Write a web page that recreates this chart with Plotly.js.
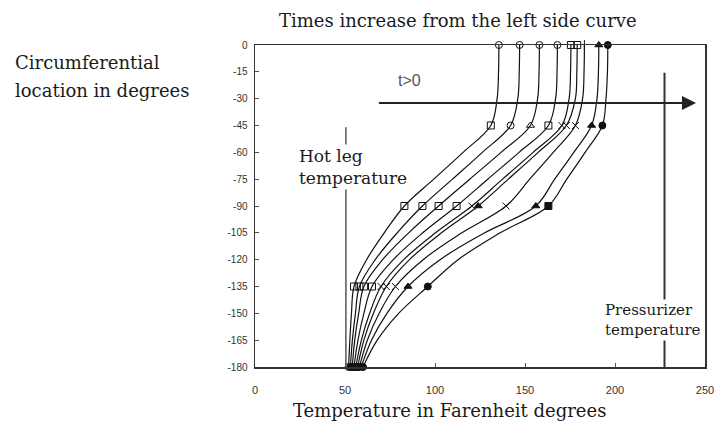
<!DOCTYPE html>
<html>
<head>
<meta charset="utf-8">
<script src="https://cdn.plot.ly/plotly-3.0.1.min.js"></script>
<style>html,body{margin:0;padding:0;background:#fff;}#chart{width:715px;height:426px;}</style>
</head>
<body>
<div id="chart"></div>
<script>
// Circumferential location (degrees)
const ANGLES = [0, -15, -30, -45, -60, -75, -90, -105, -120, -135, -150, -165, -180];
// Temperatures (°F) for each curve, times increase from left to right
const T1 = [135.5, 135.3, 134.5, 131, 115.6, 99.3, 83, 71.8, 62, 55, 53.6, 52.7, 52];
const T2 = [147, 146.8, 146, 142, 126.3, 109.7, 93, 79, 66.8, 58, 55.8, 54.1, 53];
const T3 = [158, 157.8, 157, 153, 136.7, 119.3, 102, 85.4, 70.9, 60.5, 57.6, 55.4, 54];
const T4 = [168, 167.8, 167, 163, 146.7, 129.3, 112, 93.2, 76.8, 65, 60.5, 57.2, 55];
const T5 = [175.5, 175.3, 174.5, 170.5, 154.5, 137.5, 120.5, 100.3, 82.6, 70, 63.7, 59.1, 56];
const T6 = [179, 178.8, 178, 173, 157.3, 140.7, 124, 103.6, 85.8, 73, 65.8, 60.5, 57];
const T7 = [183, 182.8, 182, 178, 165.7, 152.6, 139.5, 114.9, 93.4, 78, 69, 62.4, 58];
const T8 = [191, 190.8, 190, 187, 177.1, 166.5, 156, 127.6, 102.8, 85, 73.3, 64.7, 59];
const T9 = [196, 195.8, 195, 193, 183.4, 173.2, 163, 136.2, 112.8, 96, 79.8, 67.9, 60];
const CURVES = [T1, T2, T3, T4, T5, T6, T7, T8, T9];
// Measured (marked) angles
const MARKED_ANGLES = [0, -45, -90, -135, -180];
const MARKER_SYMBOLS = [
  ['circle-open','square-open','square-open','square-open','circle-open'],
  ['circle-open','circle-open','square-open','square-open','circle'],
  ['circle-open','triangle-up-open','square-open','square-open','circle'],
  ['circle-open','square-open','square-open','square-open','circle'],
  ['square-open','x-thin-open','x-thin-open','x-thin-open','circle'],
  ['square-open','x-thin-open','triangle-up','x-thin-open','circle'],
  ['line-ns-open','x-thin-open','x-thin-open','x-thin-open','circle'],
  ['triangle-up','triangle-up','triangle-up','triangle-up','triangle-up'],
  ['circle','circle','square','circle','circle']
];
const X_TICKS = [0, 50, 100, 150, 200, 250];
const X_TICKTEXT = ['0', '50', '100', '150', '200', '250'];
const Y_TICKS = [0, -15, -30, -45, -60, -75, -90, -105, -120, -135, -150, -165, -180];
const Y_TICKTEXT = ['0', '-15', '-30', '-45', '-60', '-75', '-90', '-105', '-120', '-135', '-150', '-165', '-180'];
const HOT_LEG_T = 50.5;
const PRESSURIZER_T = 227.5;

const traces = [];
CURVES.forEach((T, i) => {
  traces.push({
    x: T, y: ANGLES, type: 'scatter', mode: 'lines',
    line: {color: '#111', width: 1.2, shape: 'spline', smoothing: 1},
    hoverinfo: 'skip', showlegend: false, cliponaxis: false
  });
  const mx = [], my = [];
  MARKED_ANGLES.forEach(a => { const k = ANGLES.indexOf(a); mx.push(T[k]); my.push(a); });
  traces.push({
    x: mx, y: my, type: 'scatter', mode: 'markers',
    marker: {symbol: MARKER_SYMBOLS[i], size: 7, color: '#111', line: {color: '#111', width: 1}},
    hoverinfo: 'skip', showlegend: false, cliponaxis: false
  });
});

const SERIF = 'DejaVu Serif, Liberation Serif, serif';
const txt = (s, size) => ({family: SERIF, size: size, color: '#1a1a1a'});

const layout = {
  width: 715, height: 426,
  margin: {l: 255, r: 10, t: 45, b: 59},
  paper_bgcolor: '#fff', plot_bgcolor: '#fff',
  showlegend: false,
  xaxis: {
    range: [0, 250], tickvals: X_TICKS, ticktext: X_TICKTEXT,
    ticks: 'inside', ticklen: 4, tickcolor: '#555',
    showline: true, mirror: true, linecolor: '#333', linewidth: 1.5,
    showgrid: false, zeroline: false, ticklabelstandoff: 12,
    tickfont: {family: 'Liberation Sans, Arial, sans-serif', size: 11, color: '#333'}
  },
  yaxis: {
    range: [-180, 0], tickvals: Y_TICKS, ticktext: Y_TICKTEXT,
    ticks: 'inside', ticklen: 4, tickcolor: '#555',
    showline: true, mirror: true, linecolor: '#333', linewidth: 1.5,
    showgrid: false, zeroline: false, ticklabelstandoff: 4,
    tickfont: {family: 'Liberation Sans, Arial, sans-serif', size: 10, color: '#333'}
  },
  shapes: [
    {type: 'line', xref: 'x', yref: 'y', x0: HOT_LEG_T, x1: HOT_LEG_T, y0: -46, y1: -180,
     line: {color: '#555', width: 1.5}},
    {type: 'line', xref: 'x', yref: 'y', x0: PRESSURIZER_T, x1: PRESSURIZER_T, y0: -15.5, y1: -180,
     line: {color: '#333', width: 2}}
  ],
  annotations: [
    {xref: 'paper', yref: 'paper', x: 0.451, y: 1.0776, text: 'Times increase from the left side curve',
     showarrow: false, xanchor: 'center', yanchor: 'middle', font: txt('', 18)},
    {xref: 'paper', yref: 'paper', x: -0.5378, y: 0.947, text: 'Circumferential',
     showarrow: false, xanchor: 'left', yanchor: 'middle', font: txt('', 18)},
    {xref: 'paper', yref: 'paper', x: -0.5378, y: 0.860, text: 'location in degrees',
     showarrow: false, xanchor: 'left', yanchor: 'middle', font: txt('', 18)},
    {xref: 'paper', yref: 'paper', x: 0.433, y: -0.1366, text: 'Temperature in Farenheit degrees',
     showarrow: false, xanchor: 'center', yanchor: 'middle', font: txt('', 18)},
    {xref: 'x', yref: 'y', x: 23.3, y: -68, text: 'Hot leg<br>temperature', align: 'left',
     showarrow: false, xanchor: 'left', yanchor: 'middle', bgcolor: '#fff', font: txt('', 17)},
    {xref: 'x', yref: 'y', x: 193.3, y: -153.5, text: 'Pressurizer<br>temperature', align: 'left',
     showarrow: false, xanchor: 'left', yanchor: 'middle', bgcolor: '#fff', font: txt('', 15)},
    {xref: 'x', yref: 'y', x: 86, y: -19.6, text: 't&gt;0',
     showarrow: false, xanchor: 'center', yanchor: 'middle',
     font: {family: 'Liberation Sans, Arial, sans-serif', size: 16, color: '#555'}},
    {xref: 'x', yref: 'y', x: 245, y: -32.4, axref: 'x', ayref: 'y', ax: 68, ay: -32.4,
     text: '', showarrow: true, arrowhead: 2, arrowsize: 1.4, arrowwidth: 2, arrowcolor: '#222'}
  ]
};

Plotly.newPlot('chart', traces, layout, {staticPlot: true, displayModeBar: false});
</script>
</body>
</html>
